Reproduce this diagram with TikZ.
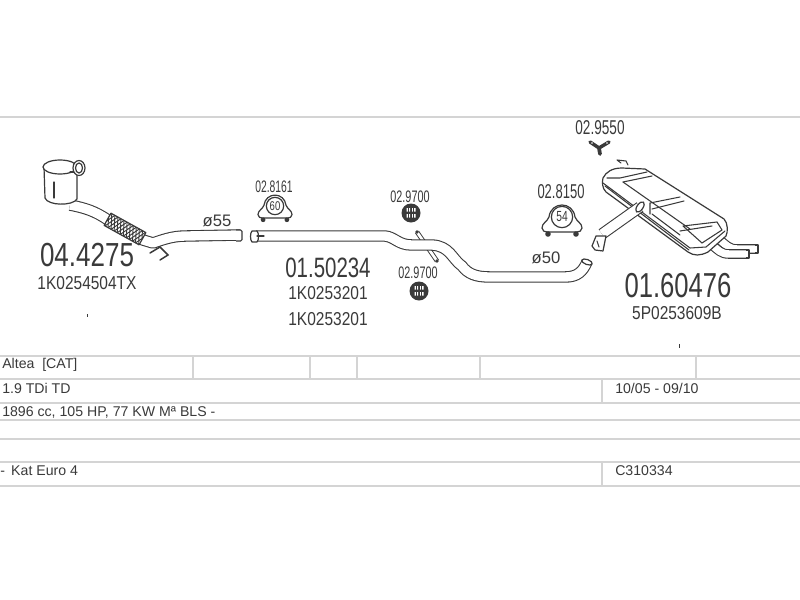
\documentclass[tikz,border=0pt]{standalone}
\usepackage{graphicx}
\usepackage{fontspec}
\setmainfont{Liberation Sans}
\definecolor{ink}{HTML}{3A3A3A}
\definecolor{rule}{HTML}{D4D4D4}
\newcommand{\cond}[2]{\scalebox{#1}[1]{#2}}
\tikzset{
  partno/.style={inner sep=0pt,text=ink,font=\fontsize{25}{25}\selectfont},
  oemno/.style={inner sep=0pt,text=ink,font=\fontsize{14}{14}\selectfont},
  smallno/.style={inner sep=0pt,text=ink,font=\fontsize{12.5}{13}\selectfont},
  dia/.style={inner sep=0pt,text=ink,font=\fontsize{12.5}{13}\selectfont},
  cell/.style={inner sep=0pt,anchor=west,text=ink,font=\fontsize{10.6}{12}\selectfont},
  hrule/.style={draw=rule,line width=1.5pt},
  vrule/.style={draw=rule,line width=1.3pt},
  pipe/.style={draw=ink,line width=.8pt,double=white,double distance=7pt,line join=round},
  tailpipe/.style={draw=ink,line width=.8pt,double=white,double distance=5.6pt,line join=round},
  thinpipe/.style={draw=ink,line width=.7pt,double=white,double distance=2pt},
  outline/.style={draw=ink,line width=.9pt,line join=round,fill=white},
  fine/.style={draw=ink,line width=.8pt,line cap=round},
  clampring/.style={circle,draw=ink,line width=.9pt,fill=white,inner sep=0pt,text=ink,font=\fontsize{9.5}{10}\selectfont},
  clampbody/.pic={
    \draw[outline] (-20,9) .. controls (-20,4) and (-15,3) .. (-13,-2) .. controls (-11,-18) and (11,-18) .. (13,-2) .. controls (15,3) and (20,4) .. (20,9) .. controls (20,12) and (17,13) .. (15,13) -- (-15,13) .. controls (-17,13) and (-20,12) .. (-20,9) -- cycle;
    \fill[ink] (-14,15) circle (2.8) (14,15) circle (2.8);
  },
  ringpart/.pic={
    \fill[ink] (0,0) circle (9.5);
    \fill[white] (-4.5,-5) rectangle (-1,-1.5) (1,-5) rectangle (4.5,-1.5) (-4.5,1) rectangle (-1,4.5) (1,1) rectangle (4.5,4.5);
    \draw[ink,line width=.6pt] (-2.5,-5) -- (-2.5,5) (2.5,-5) -- (2.5,5);
  },
}
\begin{document}
\begin{tikzpicture}[x=.75pt,y=-.75pt]
\useasboundingbox (0,0) rectangle (800,600);
\fill[white] (0,0) rectangle (800,600);

% table rules
\foreach \yy in {117,356,379,403,420,439,462,486} \draw[hrule] (0,\yy) -- (800,\yy);
\foreach \xx in {193,310,357,480,696} \draw[vrule] (\xx,356) -- (\xx,379);
\draw[vrule] (602,379) -- (602,403);
\draw[vrule] (602,462) -- (602,486);

% table text
\node[cell] (t1) at (2,365) {Altea\ \ [CAT]};
\node[cell] (t2) at (2,388) {1.9 TDi TD};
\node[cell] (t3) at (2,412) {1896 cc, 105 HP, 77 KW Mª BLS -};
\node[cell] (t4) at (0,471) {- \,Kat Euro 4};
\node[cell] (t5) at (615,388) {10/05 - 09/10};
\node[cell] (t6) at (615,471) {C310334};

% front pipe with catalyst
\draw[pipe] (70,205) .. controls (85,208) and (95,211) .. (108,220) -- (143,240) -- (153,243) .. controls (162,240) and (172,236) .. (186,236) -- (240,235);
\draw[draw=ink,line width=.8pt,fill=white,rounded corners=1pt] (236,230) -- (242,230) -- (242,241) -- (236,241);
\begin{scope}[shift={(125,229)},rotate=-29]
  \draw[outline] (-20,-7) rectangle (20,7);
  \clip (-20,-7) rectangle (20,7);
  \foreach \xx in {-26,-22.5,...,20} {
    \draw[ink,line width=.7pt] (\xx,-7) -- (\xx+7,7) (\xx+7,-7) -- (\xx,7);
  }
\end{scope}
\draw[outline] (44,167) -- (45,198) .. controls (48,206) and (73,206) .. (77,199) -- (77,167);
\draw[outline] (60,167) ellipse (17 and 7);
\draw[fine] (54,182) -- (54,198);
\draw[fine] (70,172) -- (76,172);
\draw[outline] (79,168) ellipse (6 and 7.5);
\draw[outline] (79,168) ellipse (3.5 and 5);
\draw[fine,line width=1.1pt] (150,253) -- (160,247) -- (168,255) -- (160,260);

% mid pipe
\draw[thinpipe] (417,232) -- (437,261);
\fill[ink] (417,232) circle (1.8) (437,261) circle (1.8);
\draw[pipe] (256,236) -- (385,236) .. controls (395,237) and (398,245) .. (412,245) -- (432,245) .. controls (450,246) and (452,259) .. (462,266) .. controls (468,274) and (476,277) .. (490,277) -- (565,277) .. controls (578,277) and (583,271) .. (587,262);
\draw[outline,rotate around={-20:(587,262)}] (587,262) ellipse (5.5 and 2.5);
\draw[outline] (252,231) .. controls (250,233) and (250,240) .. (252,242) -- (257,242) .. controls (259,240) and (259,233) .. (257,231) -- cycle;
\draw[fine] (257,236) -- (264,236);

% muffler
\draw[tailpipe] (720,240) .. controls (726,245) and (729,249) .. (737,249) -- (755,249);
\draw[outline] (755,245) -- (758,245) -- (758,253) -- (755,253);
\draw[tailpipe] (712,245) .. controls (718,250) and (721,254) .. (729,254) -- (746,254);
\draw[outline] (746,250) -- (749,250) -- (749,258) -- (746,258);
\draw[outline] (603,178) .. controls (606,172) and (612,168) .. (622,168) -- (645,169) -- (724,219) .. controls (728,223) and (728,232) .. (726,236) -- (708,252) .. controls (700,256) and (694,256) .. (688,252) -- (606,192) .. controls (602,188) and (602,182) .. (603,178) -- cycle;
\draw[fine] (603,183) -- (690,248) -- (706,247) -- (725,231);
\draw[fine] (605,186) -- (689,250);
\draw[fine] (607,178) -- (620,178) (623,182) -- (652,176) (620,178) -- (647,172);
\draw[fine] (623,182) -- (690,229);
\draw[fine] (650,203) -- (680,197) (652,209) -- (684,201) (650,203) -- (650,214) (652,214) -- (680,235);
\draw[fine] (683,226) -- (717,222) -- (722,230) -- (702,243) -- (683,226);
\draw[fine] (680,231) -- (712,226);
\draw[fine] (617,160) -- (626,161) -- (628,165) (617,160) -- (621,163);
\draw[pipe] (640,207) -- (602,234);
\draw[outline,rotate around={55:(640,207)}] (640,207) ellipse (6 and 3);
\draw[outline] (596,236) -- (606,236) -- (603,251) -- (595,250) -- (592,246) -- cycle;
\draw[fine] (597,241) -- (599,247);

% clamps
\pic[scale=.85] at (275,207) {clampbody};
\node[clampring,minimum size=13pt] (c60) at (275,206) {\cond{.75}{60}};
\pic at (562,219) {clampbody};
\node[clampring,minimum size=16pt,font=\fontsize{11}{11}\selectfont] (c54) at (562,217) {\cond{.7}{54}};
\pic at (411,213) {ringpart};
\pic at (419,291) {ringpart};

% hanger
\draw[ink,line width=2.6pt,line cap=round,line join=round] (590,142) -- (599,148) -- (609,142);
\draw[ink,line width=2.8pt,line cap=round] (599,148) -- (600,154);
\fill[white] (592,143) circle (.9) (607,143) circle (.9);

% specks
\fill[ink] (86.5,313.5) rectangle (87.5,316.5);
\fill[ink] (678.5,344) rectangle (679.8,348);

% labels
\node[partno] (p1) at (87,255) {\cond{.78}{04.4275}};
\node[oemno] (o1) at (87,283) {\cond{.83}{1K0254504TX}};
\node[partno,font=\fontsize{21}{21}\selectfont] (p2) at (328,268) {\cond{.73}{01.50234}};
\node[oemno] (o2) at (328,293) {\cond{.83}{1K0253201}};
\node[oemno] (o3) at (328,319) {\cond{.83}{1K0253201}};
\node[partno,font=\fontsize{26}{26}\selectfont] (p3) at (678,285.5) {\cond{.74}{01.60476}};
\node[oemno] (o4) at (677,313.5) {\cond{.83}{5P0253609B}};
\node[smallno] (s1) at (274,187) {\cond{.62}{02.8161}};
\node[smallno] (s2) at (410,197) {\cond{.65}{02.9700}};
\node[smallno] (s3) at (418,273) {\cond{.65}{02.9700}};
\node[smallno,font=\fontsize{15}{15}\selectfont] (s4) at (561,192) {\cond{.65}{02.8150}};
\node[smallno,font=\fontsize{15}{15}\selectfont] (s5) at (600,128) {\cond{.68}{02.9550}};
\node[dia] (d1) at (217,221) {ø55};
\node[dia] (d2) at (546,258) {ø50};
\end{tikzpicture}
\end{document}
